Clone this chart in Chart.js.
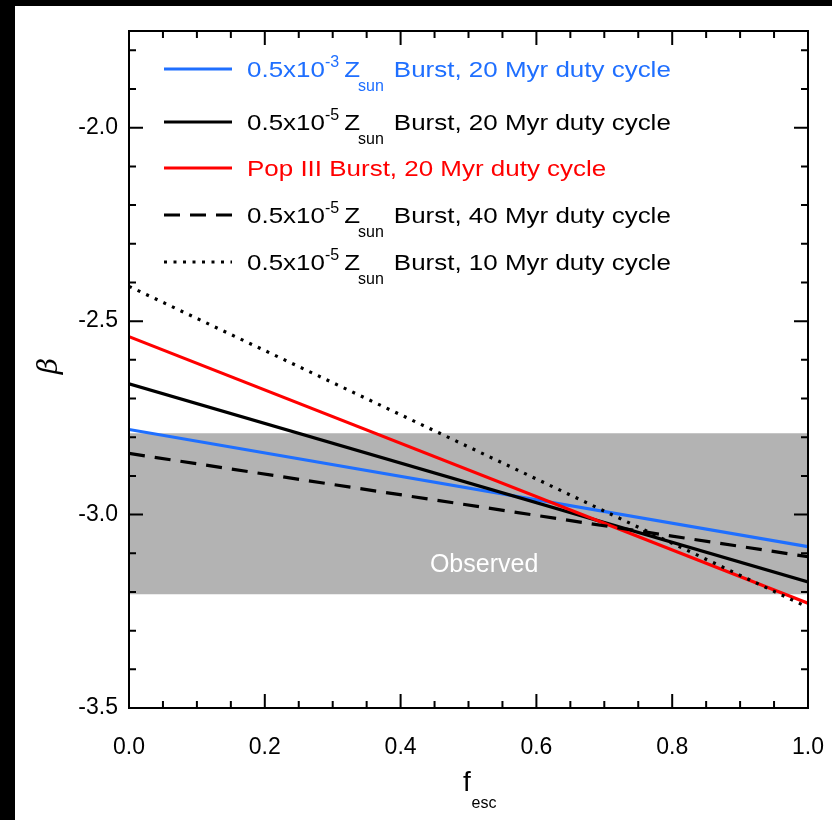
<!DOCTYPE html>
<html>
<head>
<meta charset="utf-8">
<script src="https://cdn.jsdelivr.net/npm/chart.js@4.4.1/dist/chart.umd.min.js"></script>
<style>
  html, body { margin: 0; padding: 0; background: #fff; overflow: hidden; }
  #edgeTop { position: fixed; left: 0; top: 0; right: 0; height: 6px; background: #000; }
  #edgeLeft { position: fixed; left: 0; top: 0; bottom: 0; width: 15px; background: #000; }
  #wrap { position: absolute; left: 15px; top: 6px; width: 817px; height: 814px; }
  canvas { display: block; }
</style>
</head>
<body>
<div id="edgeTop"></div><div id="edgeLeft"></div>
<div id="wrap"><canvas id="beta-chart" width="817" height="814"></canvas></div>
<script>
// values
const fEsc = [0, 1];
const betaZ3Dc20 = [-2.78, -3.083];
const betaZ5Dc20 = [-2.662, -3.174];
const betaPop3Dc20 = [-2.54, -3.229];
const betaZ5Dc40 = [-2.842, -3.109];
const betaZ5Dc10 = [-2.41, -3.24];
const observedRange = [-3.206, -2.79];

const xTickValues = [0, 0.2, 0.4, 0.6, 0.8, 1.0];
const xTickLabels = ['0.0', '0.2', '0.4', '0.6', '0.8', '1.0'];
const yTickValues = [-3.5, -3.0, -2.5, -2.0];
const yTickLabels = ['-3.5', '-3.0', '-2.5', '-2.0'];

const seriesLabels = [
  ['0.5x10', '-3', 'Z', 'sun', 'Burst, 20 Myr duty cycle'],
  ['0.5x10', '-5', 'Z', 'sun', 'Burst, 20 Myr duty cycle'],
  ['Pop III Burst, 20 Myr duty cycle'],
  ['0.5x10', '-5', 'Z', 'sun', 'Burst, 40 Myr duty cycle'],
  ['0.5x10', '-5', 'Z', 'sun', 'Burst, 10 Myr duty cycle'],
];
const observedLabel = 'Observed';
const xTitle = ['f', 'esc'];
const yTitle = 'β';

const BLUE = '#1f6fff';
const RED = '#ff0000';
const BLACK = '#000000';
const OX = 15, OY = 6;
const FONT = '"Liberation Sans", Arial, Helvetica, sans-serif';

const lineSeries = [
  { values: betaZ3Dc20, color: BLUE, dash: [] },
  { values: betaZ5Dc20, color: BLACK, dash: [] },
  { values: betaPop3Dc20, color: RED, dash: [] },
  { values: betaZ5Dc40, color: BLACK, dash: [16, 10] },
  { values: betaZ5Dc10, color: BLACK, dash: [3, 6.5] },
];

function points(values) {
  return fEsc.map((x, i) => ({ x, y: values[i] }));
}

const datasets = lineSeries.map((s, i) => ({
  label: seriesLabels[i].join(' '),
  data: points(s.values),
  borderColor: s.color,
  backgroundColor: s.color,
  borderWidth: 3.2,
  borderDash: s.dash,
  borderCapStyle: 'butt',
  pointRadius: 0,
  tension: 0,
  fill: false,
  order: lineSeries.length - i,
}));

datasets.push({
  label: 'observed top',
  data: points(fEsc.map(() => observedRange[1])),
  borderWidth: 0,
  pointRadius: 0,
  backgroundColor: '#b3b3b3',
  fill: '+1',
  order: 20,
});
datasets.push({
  label: 'observed bottom',
  data: points(fEsc.map(() => observedRange[0])),
  borderWidth: 0,
  pointRadius: 0,
  fill: false,
  order: 21,
});

function drawLegendRow(ctx, text, idx, y) {
  const s = lineSeries[idx];
  ctx.save();
  ctx.strokeStyle = s.color;
  ctx.lineWidth = 3.2;
  ctx.setLineDash(s.dash);
  ctx.beginPath();
  ctx.moveTo(164, y);
  ctx.lineTo(232, y);
  ctx.stroke();
  ctx.setLineDash([]);
  ctx.fillStyle = s.color;
  ctx.textAlign = 'left';
  ctx.textBaseline = 'alphabetic';
  ctx.translate(247, y + 8);
  const main = '22px ' + FONT;
  const small = '16px ' + FONT;
  const sx = 1.18;
  const put = (str, font, x, dy, k) => {
    ctx.save();
    ctx.font = font;
    ctx.translate(x, dy);
    ctx.scale(k, 1);
    ctx.fillText(str, 0, 0);
    const w = ctx.measureText(str).width * k;
    ctx.restore();
    return w;
  };
  if (text.length === 1) {
    put(text[0], main, 0, 0, sx);
  } else {
    let cx = 0;
    cx += put(text[0], main, cx, 0, sx);
    cx += put(text[1], small, cx, -10, 1.0) + 5;
    cx += put(text[2], main, cx, 0, sx) - 2;
    cx += put(text[3], small, cx, 14, 1.0) + 10;
    put(text[4], main, cx, 0, sx);
  }
  ctx.restore();
}

const decorPlugin = {
  id: 'decor',
  afterDraw(chart) {
    const ctx = chart.ctx;
    const a = chart.chartArea;
    const xs = chart.scales.x, ys = chart.scales.y;
    ctx.save();

    // Observed label
    ctx.fillStyle = '#ffffff';
    ctx.font = '25px ' + FONT;
    ctx.textAlign = 'center';
    ctx.textBaseline = 'middle';
    ctx.fillText(observedLabel, xs.getPixelForValue(0.523), ys.getPixelForValue(-3.13));

    // frame
    ctx.strokeStyle = '#000';
    ctx.lineWidth = 2;
    ctx.strokeRect(a.left, a.top, a.right - a.left, a.bottom - a.top);

    // inward ticks
    ctx.beginPath();
    for (let i = 0; i <= 20; i++) {
      const px = xs.getPixelForValue(i * 0.05);
      const len = i % 4 === 0 ? 14 : 7;
      ctx.moveTo(px, a.bottom); ctx.lineTo(px, a.bottom - len);
      ctx.moveTo(px, a.top); ctx.lineTo(px, a.top + len);
    }
    for (let i = 0; i <= 17; i++) {
      const py = ys.getPixelForValue(-3.5 + i * 0.1);
      const len = i % 5 === 0 ? 14 : 7;
      ctx.moveTo(a.left, py); ctx.lineTo(a.left + len, py);
      ctx.moveTo(a.right, py); ctx.lineTo(a.right - len, py);
    }
    ctx.stroke();

    // titles and legend in page coordinates
    ctx.translate(-OX, -OY);
    ctx.fillStyle = '#000';
    ctx.textAlign = 'center';
    ctx.textBaseline = 'alphabetic';
    ctx.font = '28px ' + FONT;
    ctx.fillText(xTitle[0], 467, 791);
    ctx.font = '16px ' + FONT;
    ctx.fillText(xTitle[1], 484, 808);

    ctx.save();
    ctx.translate(57, 366);
    ctx.rotate(-Math.PI / 2);
    ctx.font = 'italic 28px "DejaVu Serif", "Liberation Serif", serif';
    ctx.fillText(yTitle, 0, 0);
    ctx.restore();

    const rowY = [69, 122, 168, 215, 262];
    seriesLabels.forEach((text, i) => drawLegendRow(ctx, text, i, rowY[i]));
    ctx.restore();
  },
};

new Chart(document.getElementById('beta-chart'), {
  type: 'line',
  data: { datasets },
  options: {
    responsive: false,
    animation: false,
    devicePixelRatio: 1,
    layout: { padding: { top: 25, right: 24, left: 0, bottom: 0 } },
    plugins: { legend: { display: false }, tooltip: { enabled: false } },
    scales: {
      x: {
        type: 'linear',
        min: 0,
        max: 1,
        grid: { display: false, drawTicks: false },
        border: { display: false },
        afterBuildTicks: (s) => { s.ticks = xTickValues.map((value) => ({ value })); },
        afterFit: (s) => { s.height = 112; s.paddingLeft = 0; s.paddingRight = 0; },
        ticks: {
          color: '#000',
          font: { family: FONT, size: 23 },
          padding: 26,
          maxRotation: 0,
          callback: (v, i) => xTickLabels[i],
        },
      },
      y: {
        type: 'linear',
        min: -3.5,
        max: -1.75,
        grid: { display: false, drawTicks: false },
        border: { display: false },
        afterBuildTicks: (s) => { s.ticks = yTickValues.map((value) => ({ value })); },
        afterFit: (s) => { s.width = 114; s.paddingTop = 0; s.paddingBottom = 0; },
        ticks: {
          color: '#000',
          font: { family: FONT, size: 23 },
          padding: 11,
          callback: (v, i) => yTickLabels[i],
        },
      },
    },
  },
  plugins: [decorPlugin],
});
</script>
</body>
</html>
